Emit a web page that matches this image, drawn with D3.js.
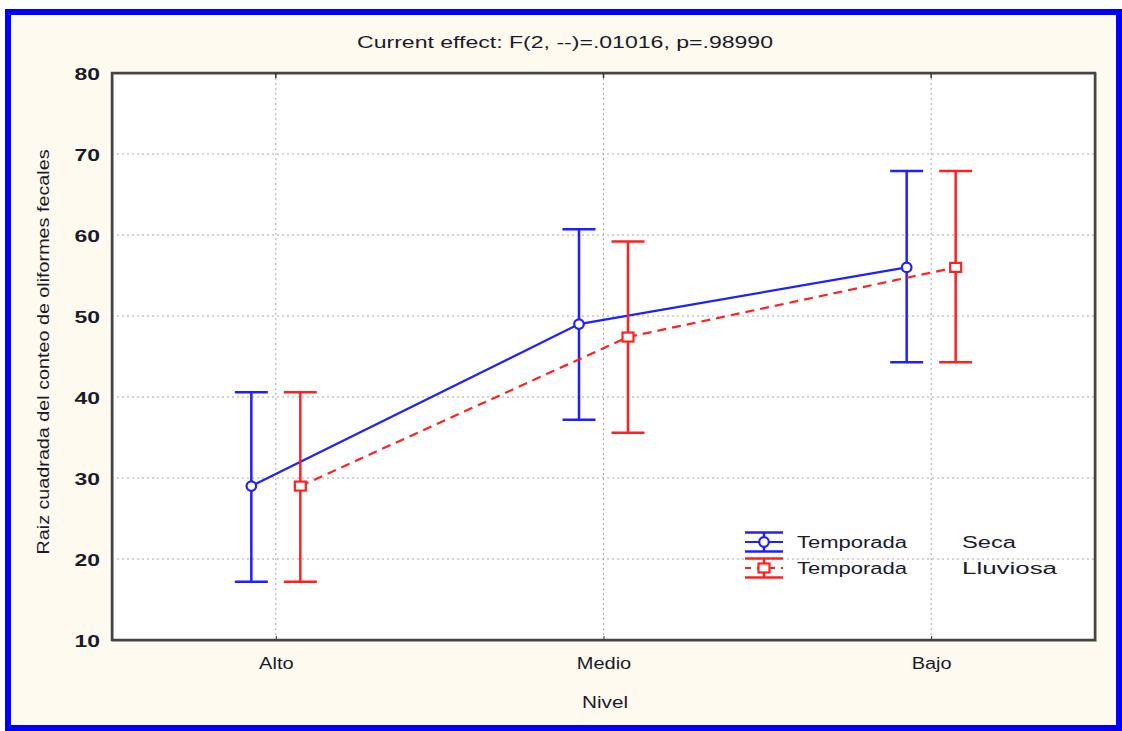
<!DOCTYPE html>
<html><head><meta charset="utf-8">
<script src="https://cdn.jsdelivr.net/npm/d3@7"></script>
<style>html,body{margin:0;padding:0;background:#fff;}svg{display:block;}</style>
</head><body>
<script>
const categories = ["Alto", "Medio", "Bajo"];
const secaMean = [29.0, 49.0, 56.0];
const secaLow = [17.2, 37.2, 44.3];
const secaHigh = [40.6, 60.7, 67.9];
const lluviosaMean = [29.0, 47.4, 56.0];
const lluviosaLow = [17.2, 35.6, 44.3];
const lluviosaHigh = [40.6, 59.2, 67.9];
const yTicks = [10, 20, 30, 40, 50, 60, 70, 80];
const titleText = "Current effect: F(2, --)=.01016, p=.98990";
const yLabel = "Raiz cuadrada del conteo de oliformes fecales";
const xLabel = "Nivel";
const legendLeft = ["Temporada", "Temporada"];
const legendRight = ["Seca", "Lluviosa"];

const W = 1122, H = 731;
const m = {left: 112, right: 1095, top: 73, bottom: 640};
const svg = d3.select("body").append("svg").attr("width", W).attr("height", H);
const FONT = "Arial, 'Liberation Sans', sans-serif";
const TXT = "#1a1a2a";

// background + blue frame
svg.append("rect").attr("x", 0).attr("y", 0).attr("width", W).attr("height", H).attr("fill", "#ffffff");
svg.append("rect").attr("x", 8).attr("y", 12).attr("width", 1111).attr("height", 716)
  .attr("fill", "#fffaef").attr("stroke", "#0000ff").attr("stroke-width", 6);

const x = d3.scalePoint().domain(categories).range([m.left, m.right]).padding(0.5);
const y = d3.scaleLinear().domain([10, 80]).range([m.bottom, m.top]);
const off = 24.5;

// plot area
svg.append("rect").attr("x", m.left).attr("y", m.top).attr("width", m.right - m.left).attr("height", m.bottom - m.top)
  .attr("fill", "#ffffff");

// grid
const grid = svg.append("g").attr("stroke", "#a8a8a8").attr("stroke-width", 1).attr("stroke-dasharray", "2,3");
grid.selectAll("line.h").data(yTicks.slice(1, -1)).join("line")
  .attr("x1", m.left).attr("x2", m.right).attr("y1", d => y(d)).attr("y2", d => y(d));
grid.selectAll("line.v").data(categories).join("line")
  .attr("x1", d => x(d)).attr("x2", d => x(d)).attr("y1", m.top).attr("y2", m.bottom);

// axes with d3
const yAxis = svg.append("g").attr("transform", `translate(${m.left},0)`)
  .call(d3.axisLeft(y).tickValues(yTicks).tickSize(0).tickPadding(12));
yAxis.select(".domain").remove();
yAxis.selectAll("text").attr("font-family", FONT).attr("font-size", 17).attr("fill", TXT)
  .attr("font-weight", "bold").attr("dy", "0.36em");

const xAxis = svg.append("g").attr("transform", `translate(0,${m.bottom})`)
  .call(d3.axisBottom(x).tickSize(4).tickPadding(14));
xAxis.select(".domain").remove();
xAxis.selectAll("line").attr("stroke", "#333").attr("transform", "translate(0,-4)");
xAxis.selectAll("text").attr("font-family", FONT).attr("font-size", 16).attr("fill", TXT);

// stretch text horizontally like reference
function stretch(sel, k) {
  sel.each(function() {
    const len = this.getComputedTextLength();
    d3.select(this).attr("textLength", len * k).attr("lengthAdjust", "spacingAndGlyphs");
  });
}
stretch(yAxis.selectAll("text"), 1.35);
stretch(xAxis.selectAll("text"), 1.25);

// frame
svg.append("rect").attr("x", m.left + 1).attr("y", m.top + 1).attr("width", m.right - m.left).attr("height", m.bottom - m.top)
  .attr("fill", "none").attr("stroke", "#999").attr("stroke-width", 2).attr("opacity", 0.6);
svg.append("rect").attr("x", m.left).attr("y", m.top).attr("width", m.right - m.left).attr("height", m.bottom - m.top)
  .attr("fill", "none").attr("stroke", "#444").attr("stroke-width", 2.5);
// top ticks
svg.append("g").selectAll("line").data(categories).join("line")
  .attr("x1", d => x(d)).attr("x2", d => x(d)).attr("y1", m.top).attr("y2", m.top + 5)
  .attr("stroke", "#333").attr("stroke-width", 1.5);

// series
const series = [
  {mean: secaMean, low: secaLow, high: secaHigh, color: "#1f1fff", dx: -off, dash: null, marker: "circle"},
  {mean: lluviosaMean, low: lluviosaLow, high: lluviosaHigh, color: "#ff2020", dx: off, dash: "9,6", marker: "square"}
];
const capW = 16.5;
series.forEach(s => {
  const g = svg.append("g");
  const pts = categories.map((c, i) => ({c, i, x: x(c) + s.dx, m: s.mean[i], lo: s.low[i], hi: s.high[i]}));
  g.append("path").datum(pts)
    .attr("d", d3.line().x(d => d.x).y(d => y(d.m)))
    .attr("fill", "none").attr("stroke", s.color).attr("stroke-width", 2.2)
    .attr("stroke-dasharray", s.dash);
  g.selectAll("line.v").data(pts).join("line")
    .attr("x1", d => d.x).attr("x2", d => d.x).attr("y1", d => y(d.lo)).attr("y2", d => y(d.hi))
    .attr("stroke", s.color).attr("stroke-width", 2.5);
  ["lo", "hi"].forEach(k => {
    g.selectAll("line." + k).data(pts).join("line")
      .attr("x1", d => d.x - capW).attr("x2", d => d.x + capW).attr("y1", d => y(d[k])).attr("y2", d => y(d[k]))
      .attr("stroke", s.color).attr("stroke-width", 2.5);
  });
  if (s.marker === "circle") {
    g.selectAll("circle").data(pts).join("circle")
      .attr("cx", d => d.x).attr("cy", d => y(d.m)).attr("r", 4.8)
      .attr("fill", "#fff").attr("stroke", s.color).attr("stroke-width", 2.2);
  } else {
    g.selectAll("rect").data(pts).join("rect")
      .attr("x", d => d.x - 5.5).attr("y", d => y(d.m) - 4.5).attr("width", 11).attr("height", 9)
      .attr("fill", "#fff").attr("stroke", s.color).attr("stroke-width", 2.2);
  }
});

// legend
const lg = svg.append("g");
const legY = [542, 568];
series.forEach((s, i) => {
  const cy = legY[i], cx = 764;
  lg.append("line").attr("x1", 745).attr("x2", 783).attr("y1", cy).attr("y2", cy)
    .attr("stroke", s.color).attr("stroke-width", 2.2).attr("stroke-dasharray", s.dash ? "6,6" : null);
  lg.append("line").attr("x1", 745).attr("x2", 783).attr("y1", cy - 9.5).attr("y2", cy - 9.5).attr("stroke", s.color).attr("stroke-width", 2.5);
  lg.append("line").attr("x1", 745).attr("x2", 783).attr("y1", cy + 9.5).attr("y2", cy + 9.5).attr("stroke", s.color).attr("stroke-width", 2.5);
  lg.append("line").attr("x1", cx).attr("x2", cx).attr("y1", cy - 9.5).attr("y2", cy + 9.5).attr("stroke", s.color).attr("stroke-width", 2.5);
  if (s.marker === "circle") {
    lg.append("circle").attr("cx", cx).attr("cy", cy).attr("r", 4.8).attr("fill", "#fff").attr("stroke", s.color).attr("stroke-width", 2.2);
  } else {
    lg.append("rect").attr("x", cx - 5.5).attr("y", cy - 4.5).attr("width", 11).attr("height", 9).attr("fill", "#fff").attr("stroke", s.color).attr("stroke-width", 2.2);
  }
  lg.append("text").attr("x", 797).attr("y", cy + 6).text(legendLeft[i])
    .attr("font-family", FONT).attr("font-size", 16).attr("fill", TXT)
    .attr("textLength", 110).attr("lengthAdjust", "spacingAndGlyphs");
  lg.append("text").attr("x", 962).attr("y", cy + 6).text(legendRight[i])
    .attr("font-family", FONT).attr("font-size", 16).attr("fill", TXT)
    .attr("textLength", i === 0 ? 54 : 95).attr("lengthAdjust", "spacingAndGlyphs");
});

// title
svg.append("text").attr("x", 565).attr("y", 48).attr("text-anchor", "middle").text(titleText)
  .attr("font-family", FONT).attr("font-size", 16).attr("fill", TXT)
  .attr("textLength", 416).attr("lengthAdjust", "spacingAndGlyphs");

// axis titles
svg.append("text").attr("x", 605).attr("y", 708).attr("text-anchor", "middle").text(xLabel)
  .attr("font-family", FONT).attr("font-size", 16).attr("fill", TXT)
  .attr("textLength", 46).attr("lengthAdjust", "spacingAndGlyphs");
svg.append("text").attr("transform", "translate(49,352) rotate(-90)").attr("text-anchor", "middle").text(yLabel)
  .attr("font-family", FONT).attr("font-size", 16).attr("fill", TXT)
  .attr("textLength", 405).attr("lengthAdjust", "spacingAndGlyphs");
</script>
</body></html>
